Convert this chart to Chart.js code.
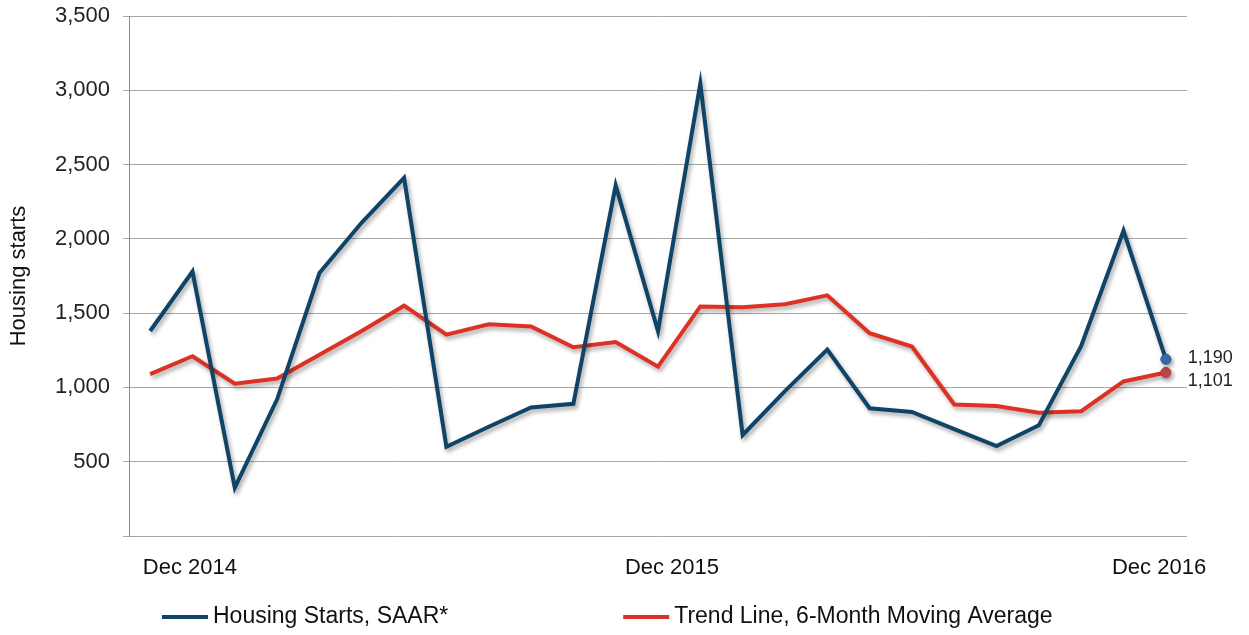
<!DOCTYPE html>
<html>
<head>
<meta charset="utf-8">
<script src="https://cdn.jsdelivr.net/npm/chart.js@4.4.1/dist/chart.umd.min.js"></script>
<style>
  html, body { margin: 0; padding: 0; background: #fff; }
  #wrap { width: 1249px; height: 635px; }
</style>
</head>
<body>
<div id="wrap"><canvas id="chart"></canvas></div>
<script>
const months = ["Dec 2014", "Jan 2015", "Feb 2015", "Mar 2015", "Apr 2015", "May 2015", "Jun 2015",
    "Jul 2015", "Aug 2015", "Sep 2015", "Oct 2015", "Nov 2015", "Dec 2015",
    "Jan 2016", "Feb 2016", "Mar 2016", "Apr 2016", "May 2016", "Jun 2016",
    "Jul 2016", "Aug 2016", "Sep 2016", "Oct 2016", "Nov 2016", "Dec 2016"];

const housingStarts = [1380, 1780, 325, 920, 1770, 2110, 2410, 600, 735, 865, 890, 2360, 1380,
    3045, 680, 975, 1255, 860, 835, 720, 605, 745, 1280, 2055, 1190];

const trendLine = [1090, 1210, 1025, 1060, 1220, 1380, 1550, 1355, 1425, 1410, 1270, 1305, 1140,
    1545, 1540, 1560, 1620, 1365, 1275, 885, 875, 830, 840, 1040, 1101];

const xTickLabels = ["Dec 2014", "Dec 2015", "Dec 2016"];
// where Excel put the three labels, in month units
const xTickSpots = [0.94, 12.33, 23.84];

const yTicks = [0, 500, 1000, 1500, 2000, 2500, 3000, 3500];

const BLUE = "#0f4466";
const RED = "#dc3124";
const FONT = "'Liberation Sans', Arial, sans-serif";
const last = months.length - 1;

const shadowPlugin = {
    id: "lineShadow",
    beforeDatasetDraw(chart) {
        const ctx = chart.ctx;
        ctx.save();
        ctx.shadowColor = "rgba(0, 0, 0, 0.35)";
        ctx.shadowBlur = 4;
        ctx.shadowOffsetX = 2;
        ctx.shadowOffsetY = 3;
    },
    afterDatasetDraw(chart) {
        chart.ctx.restore();
    }
};

const endLabels = {
    id: "endLabels",
    afterDatasetsDraw(chart) {
        const ctx = chart.ctx;
        const pBlue = chart.getDatasetMeta(0).data[last];
        const pRed = chart.getDatasetMeta(1).data[last];
        let yBlue = pBlue.y - 1;
        let yRed = pRed.y;
        if (yRed - yBlue < 23) yRed = yBlue + 23;
        ctx.save();
        ctx.font = "18px " + FONT;
        ctx.fillStyle = "#222";
        ctx.textAlign = "left";
        ctx.textBaseline = "middle";
        ctx.fillText(housingStarts[last].toLocaleString("en-US"), pBlue.x + 22, yBlue);
        ctx.fillText(trendLine[last].toLocaleString("en-US"), pRed.x + 22, yRed);
        ctx.restore();
    }
};

const bottomLegend = {
    id: "bottomLegend",
    afterDraw(chart) {
        const ctx = chart.ctx;
        const y = 617;
        let x = 162;
        ctx.save();
        ctx.font = "23px " + FONT;
        ctx.textBaseline = "middle";
        chart.data.datasets.forEach((ds) => {
            ctx.strokeStyle = ds.borderColor;
            ctx.lineWidth = 4;
            ctx.beginPath();
            ctx.moveTo(x, y);
            ctx.lineTo(x + 46, y);
            ctx.stroke();
            ctx.fillStyle = "#111";
            ctx.fillText(ds.label, x + 51, y);
            x += 51 + ctx.measureText(ds.label).width + 175;
        });
        ctx.restore();
    }
};

new Chart("chart", {
    type: "line",
    data: {
        labels: months,
        datasets: [{
            label: "Housing Starts, SAAR*",
            data: housingStarts,
            borderColor: BLUE,
            borderWidth: 4,
            pointRadius: (c) => c.dataIndex === last ? 5 : 0,
            pointBackgroundColor: "#3a6db3",
            pointBorderColor: "#2a578f",
            pointBorderWidth: 1,
            tension: 0
        }, {
            label: "Trend Line, 6-Month Moving Average",
            data: trendLine,
            borderColor: RED,
            borderWidth: 4,
            pointRadius: (c) => c.dataIndex === last ? 5 : 0,
            pointBackgroundColor: "#c9484a",
            pointBorderColor: "#b83c3e",
            pointBorderWidth: 1,
            tension: 0
        }]
    },
    options: {
        responsive: true,
        maintainAspectRatio: false,
        animation: false,
        layout: { padding: { left: 0, right: 62, top: 16, bottom: 49 } },
        plugins: {
            legend: { display: false },
            tooltip: { enabled: false }
        },
        scales: {
            x: {
                type: "category",
                display: false,
                offset: true
            },
            xl: {
                type: "linear",
                position: "bottom",
                min: -0.5,
                max: last + 0.5,
                grid: { display: false, drawTicks: false },
                border: { display: false },
                afterBuildTicks: (axis) => {
                    axis.ticks = xTickSpots.map((v) => ({ value: v }));
                },
                afterFit: (axis) => {
                    axis.height = 50;
                    axis.paddingLeft = 0;
                    axis.paddingRight = 0;
                },
                ticks: {
                    autoSkip: false,
                    maxRotation: 0,
                    padding: 19,
                    color: "#111",
                    font: { family: FONT, size: 22 },
                    callback: (value) => xTickLabels[xTickSpots.indexOf(value)]
                }
            },
            y: {
                min: 0,
                max: 3500,
                afterBuildTicks: (axis) => {
                    axis.ticks = yTicks.map((v) => ({ value: v }));
                },
                afterFit: (axis) => {
                    axis.width = 129;
                    axis.paddingTop = 0;
                    axis.paddingBottom = 0;
                },
                grid: { color: "#a8a8a8", lineWidth: 1, tickLength: 6 },
                border: { color: "#8a8a8a", width: 1 },
                ticks: {
                    padding: 13,
                    color: "#222",
                    font: { family: FONT, size: 22 },
                    callback: (value) => value === 0 ? "" : value.toLocaleString("en-US")
                },
                title: {
                    display: true,
                    text: "Housing starts",
                    color: "#111",
                    font: { family: FONT, size: 22 },
                    padding: { top: 6, bottom: 0 }
                }
            }
        }
    },
    plugins: [shadowPlugin, endLabels, bottomLegend]
});
</script>
</body>
</html>
